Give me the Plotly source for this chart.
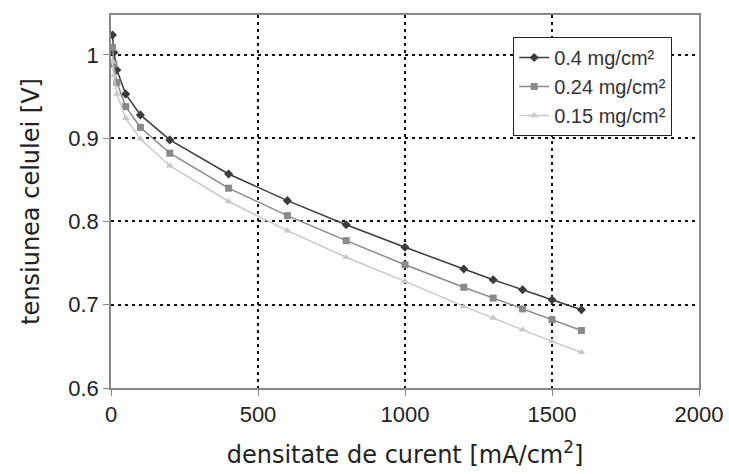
import plotly.graph_objects as go

x_vals = [5, 10, 20, 50, 100, 200, 400, 600, 800, 1000, 1200, 1300, 1400, 1500, 1600]
s_040 = [1.024, 1.003, 0.982, 0.953, 0.928, 0.898, 0.857, 0.825, 0.796, 0.769, 0.743, 0.730, 0.718, 0.706, 0.694]
s_024 = [1.009, 0.989, 0.967, 0.938, 0.913, 0.882, 0.840, 0.807, 0.777, 0.748, 0.721, 0.708, 0.695, 0.682, 0.669]
s_015 = [0.992, 0.975, 0.953, 0.924, 0.899, 0.867, 0.824, 0.789, 0.757, 0.728, 0.698, 0.684, 0.670, 0.656, 0.643]
names = ["0.4 mg/cm²", "0.24 mg/cm²", "0.15 mg/cm²"]
x_ticks = [0, 500, 1000, 1500, 2000]
y_ticks = [0.6, 0.7, 0.8, 0.9, 1.0]
y_ticktext = ["0.6", "0.7", "0.8", "0.9", "1"]

fig = go.Figure()
styles = [("#3c3c3c", "diamond", 7), ("#8a8a8a", "square", 7), ("#c8c8c8", "triangle-up", 7)]
for ys, nm, (col, sym, sz) in zip([s_040, s_024, s_015], names, styles):
    fig.add_trace(go.Scatter(x=x_vals, y=ys, name=nm, mode="lines+markers",
                             line=dict(color=col, width=1.5),
                             marker=dict(symbol=sym, size=sz, color=col)))

font = "Liberation Sans, Arial, sans-serif"
title_font = "DejaVu Sans, Verdana, sans-serif"
fig.update_layout(
    width=729, height=474,
    margin=dict(l=111, r=30, t=15, b=86),
    paper_bgcolor="white", plot_bgcolor="white",
    font=dict(family=font, size=22, color="#222"),
    showlegend=True,
    legend=dict(x=0.684, y=0.941, xanchor="left", yanchor="top",
                bgcolor="white", bordercolor="#222", borderwidth=1,
                font=dict(size=20, color="#333"), tracegroupgap=0,
                itemsizing="trace", itemwidth=30),
)
fig.update_xaxes(range=[0, 2000], tickvals=x_ticks, automargin=False,
                 showgrid=True, gridcolor="#111", gridwidth=1.5, griddash="3px,4px",
                 showline=True, linecolor="#888", linewidth=1.5, mirror=True,
                 ticks="outside", ticklen=6, tickcolor="#888", zeroline=False,
                 title=dict(text="densitate de curent [mA/cm<sup>2</sup>]",
                            font=dict(family=title_font, size=24, color="#222"), standoff=20))
fig.update_yaxes(range=[0.6, 1.048], tickvals=y_ticks, ticktext=y_ticktext, automargin=False,
                 showgrid=True, gridcolor="#111", gridwidth=1.5, griddash="3px,4px",
                 showline=True, linecolor="#888", linewidth=1.5, mirror=True,
                 ticks="outside", ticklen=6, tickcolor="#888", zeroline=False,
                 title=dict(text="tensiunea celulei [V]",
                            font=dict(family=title_font, size=24, color="#222"), standoff=22))

fig.write_html("out.html")
